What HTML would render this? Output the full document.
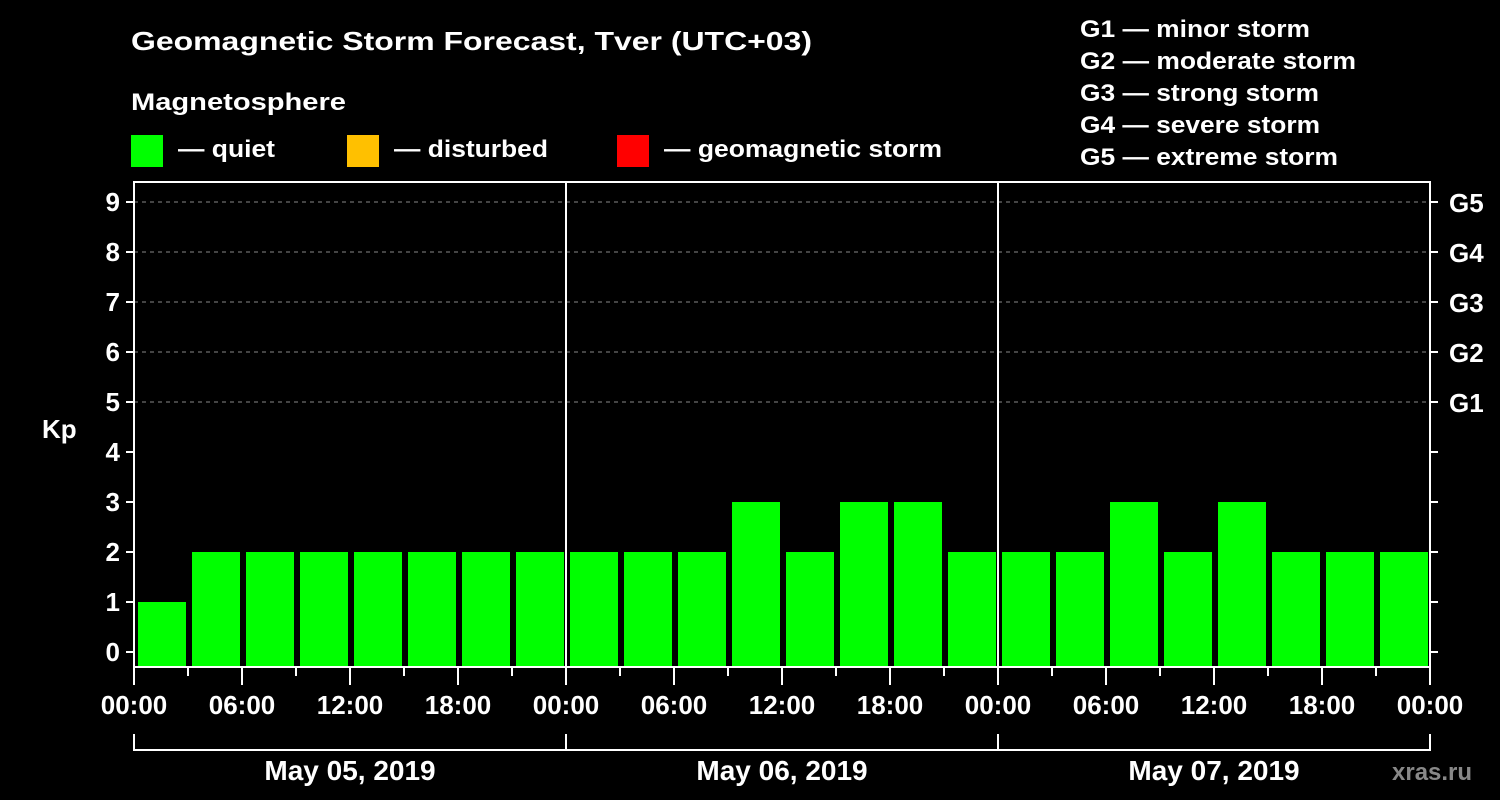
<!DOCTYPE html>
<html><head><meta charset="utf-8"><style>
html,body{margin:0;padding:0;background:#000;}
svg{display:block;font-family:"Liberation Sans",Arial,sans-serif;font-weight:bold;}
</style></head><body>
<svg id="chart" width="1500" height="800" viewBox="0 0 1500 800">
<rect width="1500" height="800" fill="#000"/>
<text x="131" y="50" fill="#fff" font-size="26" textLength="681" lengthAdjust="spacingAndGlyphs">Geomagnetic Storm Forecast, Tver (UTC+03)</text>
<text x="131" y="110" fill="#fff" font-size="24" textLength="215" lengthAdjust="spacingAndGlyphs">Magnetosphere</text>
<g><rect x="131" y="135" width="32" height="32" fill="#00ff00"/><text x="178" y="157" fill="#fff" font-size="24" textLength="97" lengthAdjust="spacingAndGlyphs">— quiet</text></g>
<g><rect x="347" y="135" width="32" height="32" fill="#ffc000"/><text x="394" y="157" fill="#fff" font-size="24" textLength="154" lengthAdjust="spacingAndGlyphs">— disturbed</text></g>
<g><rect x="617" y="135" width="32" height="32" fill="#ff0000"/><text x="664" y="157" fill="#fff" font-size="24" textLength="278" lengthAdjust="spacingAndGlyphs">— geomagnetic storm</text></g>
<g fill="#fff" font-size="24">
<text x="1080" y="37" textLength="230" lengthAdjust="spacingAndGlyphs">G1 — minor storm</text>
<text x="1080" y="69" textLength="276" lengthAdjust="spacingAndGlyphs">G2 — moderate storm</text>
<text x="1080" y="101" textLength="239" lengthAdjust="spacingAndGlyphs">G3 — strong storm</text>
<text x="1080" y="133" textLength="240" lengthAdjust="spacingAndGlyphs">G4 — severe storm</text>
<text x="1080" y="165" textLength="258" lengthAdjust="spacingAndGlyphs">G5 — extreme storm</text>
</g>
<text x="42" y="438" fill="#fff" font-size="26">Kp</text>
<text x="1392" y="780" fill="#888" font-size="24">xras.ru</text>
<g id="plot"></g>
</svg>
<script>
const kpValues = [1,2,2,2,2,2,2,2, 2,2,2,3,2,3,3,2, 2,2,3,2,3,2,2,2];
const dayLabels = ["May 05, 2019","May 06, 2019","May 07, 2019"];
const yTicks = [0,1,2,3,4,5,6,7,8,9];
const gLabels = ["G1","G2","G3","G4","G5"];
const hourLabels = ["00:00","06:00","12:00","18:00"];

const NS="http://www.w3.org/2000/svg";
const L=134,R=1430,T=182,B=667;
const slotW=(R-L)/kpValues.length;
const y=v=>652-v*50;
const x=i=>L+i*slotW;
const g=document.getElementById('plot');
function mk(tag,attrs,parent){const e=document.createElementNS(NS,tag);for(const k in attrs)e.setAttribute(k,attrs[k]);(parent||g).appendChild(e);return e;}

yTicks.forEach(v=>{
  if(v>=5){const l=mk('line',{x1:L,x2:R,y1:y(v),y2:y(v),stroke:'#888','stroke-dasharray':'4,4','stroke-width':1});
  
  }
  const t=mk('line',{x1:L-8,x2:L,y1:y(v),y2:y(v),stroke:'#fff','stroke-width':2});
  
  
  const t2=mk('line',{x1:R,x2:R+8,y1:y(v),y2:y(v),stroke:'#fff','stroke-width':2});
  
  
  const tx=mk('text',{x:L-14,y:y(v)+9,'text-anchor':'end',fill:'#fff','font-size':26});
  tx.textContent=v;
  
  
});
gLabels.forEach((s,i)=>{
  const tx=mk('text',{x:R+19,y:y(5+i)+10,fill:'#fff','font-size':26});
  tx.textContent=s;
  
  
});
kpValues.forEach((v,i)=>{
  const c=v>=5?'#ff0000':(v>=4?'#ffc000':'#00ff00');
  const r=mk('rect',{x:x(i)+4,y:y(v),width:slotW-6,height:B-y(v),fill:c});
  
  
});
const frame=mk('rect',{x:L,y:T,width:R-L,height:B-T,fill:'none',stroke:'#fff','stroke-width':2});


const days=dayLabels.length;
for(let d=1;d<days;d++){
  const dl=mk('line',{x1:x(d*8),x2:x(d*8),y1:T,y2:B,stroke:'#fff','stroke-width':2});
  
  
}
for(let i=0;i<=kpValues.length;i++){
  const major=i%2===0;
  const tk=mk('line',{x1:x(i),x2:x(i),y1:B,y2:B+(major?18:9),stroke:'#fff','stroke-width':2});
  
  
  if(major){
    const tx=mk('text',{x:x(i),y:B+47,'text-anchor':'middle',fill:'#fff','font-size':26});
    tx.textContent=hourLabels[(i/2)%4];
    
    
  }
}
dayLabels.forEach((s,d)=>{
  const x0=x(d*8),x1=x((d+1)*8);
  const br=mk('path',{d:`M${x0} 734V750H${x1}V734`,fill:'none',stroke:'#fff','stroke-width':2});
  
  
  const tx=mk('text',{x:(x0+x1)/2,y:780,'text-anchor':'middle',fill:'#fff','font-size':28});
  tx.textContent=s;
  
  
});
</script>
</body></html>
